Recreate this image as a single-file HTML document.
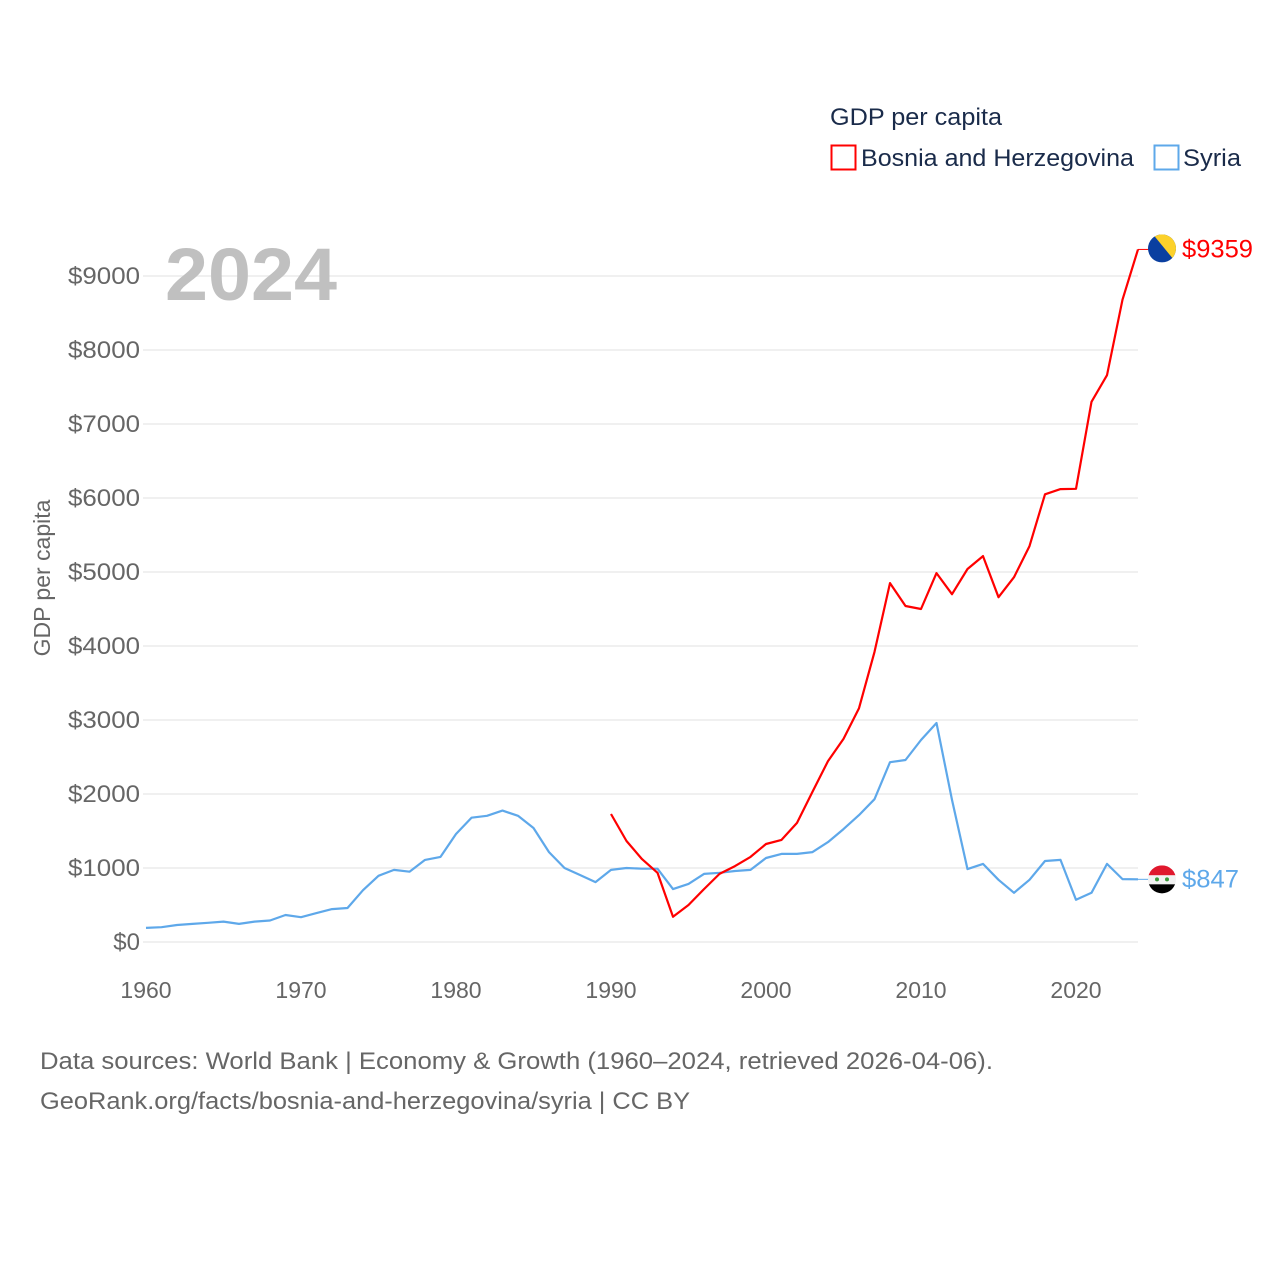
<!DOCTYPE html>
<html><head><meta charset="utf-8"><style>
html,body{margin:0;padding:0;background:#fff;}
svg{display:block;font-family:"Liberation Sans",sans-serif;}
</style></head><body>
<svg id="chart" width="1280" height="1280" viewBox="0 0 1280 1280" xmlns="http://www.w3.org/2000/svg">
<rect width="1280" height="1280" fill="#fff"/>
<g id="grid"></g>
<g id="yticks"></g>
<g id="xticks"></g>
<text transform="translate(50,578) rotate(-90)" text-anchor="middle" font-size="23" fill="#666">GDP per capita</text>
<text x="165" y="300" font-size="74" font-weight="bold" fill="#c0c0c0" textLength="172" lengthAdjust="spacingAndGlyphs">2024</text>
<g>
<text x="830" y="125" font-size="24" fill="#1a2b4a" textLength="172" lengthAdjust="spacingAndGlyphs">GDP per capita</text>
<rect x="831.5" y="145.5" width="24" height="24" fill="none" stroke="#ff0000" stroke-width="2"/>
<text x="861" y="166" font-size="24" fill="#1a2b4a" textLength="273" lengthAdjust="spacingAndGlyphs">Bosnia and Herzegovina</text>
<rect x="1154.5" y="145.5" width="24" height="24" fill="none" stroke="#5ea8ea" stroke-width="2"/>
<text x="1183" y="166" font-size="24" fill="#1a2b4a" textLength="58" lengthAdjust="spacingAndGlyphs">Syria</text>
</g>
<g id="series"></g>
<g id="ends"></g>
<text x="40" y="1069" font-size="24" fill="#666" textLength="953" lengthAdjust="spacingAndGlyphs">Data sources: World Bank | Economy &amp; Growth (1960–2024, retrieved 2026-04-06).</text>
<text x="40" y="1109" font-size="24" fill="#666" textLength="650" lengthAdjust="spacingAndGlyphs">GeoRank.org/facts/bosnia-and-herzegovina/syria | CC BY</text>
</svg>
<script>
const yTicks=[0,1000,2000,3000,4000,5000,6000,7000,8000,9000];
const xTicks=[1960,1970,1980,1990,2000,2010,2020];
const syriaStart=1960;
const syriaValues=[190,200,230,245,260,275,245,275,290,365,335,390,445,460,700,895,975,950,1110,1150,1460,1680,1705,1775,1705,1540,1215,1000,905,810,975,1000,990,990,715,785,920,935,960,975,1135,1190,1190,1215,1350,1525,1715,1930,2430,2460,2730,2960,1920,985,1055,840,665,840,1095,1110,570,665,1055,850,847];
const bosniaStart=1990;
const bosniaValues=[1730,1365,1120,935,340,500,715,920,1025,1150,1325,1380,1610,2030,2445,2745,3160,3920,4850,4540,4500,4985,4700,5040,5215,4660,4930,5350,6050,6120,6125,7300,7660,8680,9359];

const NS="http://www.w3.org/2000/svg";
const X=yr=>146+(yr-1960)*15.5;
const Y=v=>942-v*0.074;
function mk(tag,attrs,parent){const e=document.createElementNS(NS,tag);for(const k in attrs)e.setAttribute(k,attrs[k]);parent.appendChild(e);return e;}
const grid=document.getElementById('grid'),yt=document.getElementById('yticks'),xt=document.getElementById('xticks');
yTicks.forEach(v=>{
  const l=mk('line',{x1:143,x2:1138,y1:Y(v),y2:Y(v),stroke:'#ebebeb','stroke-width':1.5},grid);
  
  
  const s='$'+v;
  const attrs={x:140,y:Y(v)+8,'text-anchor':'end','font-size':24,fill:'#666'};
  if(s.length>2){attrs.textLength=(s.length*14.4).toFixed(1);attrs.lengthAdjust='spacingAndGlyphs';}
  const t=mk('text',attrs,yt);
  
  
  t.textContent=s;
});
xTicks.forEach(yr=>{
  const t=mk('text',{x:X(yr),y:998,'text-anchor':'middle','font-size':23,fill:'#666'},xt);
  
  
  t.textContent=yr;
});
const sg=document.getElementById('series');
function line(start,vals,color,name){
  const pts=vals.map((v,i)=>X(start+i).toFixed(1)+','+Y(v).toFixed(1)).join(' ');
  const p=mk('polyline',{points:pts,fill:'none',stroke:color,'stroke-width':2.2,'stroke-linejoin':'round'},sg);
  
  
}
line(syriaStart,syriaValues,'#5ea8ea','line-syria');
line(bosniaStart,bosniaValues,'#ff0000','line-bosnia');

const ends=document.getElementById('ends');
const bv=bosniaValues[bosniaValues.length-1], sv=syriaValues[syriaValues.length-1];
const bx=X(bosniaStart+bosniaValues.length-1), sx=X(syriaStart+syriaValues.length-1);
const by=Y(bv);
const bl=mk('line',{x1:bx,x2:1150,y1:by,y2:by,stroke:'#ff0000','stroke-width':1},ends);


const bf=mk('g',{},ends);


const cb=mk('clipPath',{id:'cb'},bf);mk('circle',{cx:1162,cy:by-1,r:14},cb);
const fb=mk('g',{'clip-path':'url(#cb)'},bf);
mk('rect',{x:1148,y:by-15,width:28,height:28,fill:'#0a3fa0'},fb);
mk('polygon',{points:`1153,${by-15} 1176,${by-15} 1176,${by+13}`,fill:'#fcd12a'},fb);
const bt=mk('text',{x:1182,y:by+8,'font-size':25,fill:'#ff0000',textLength:71,lengthAdjust:'spacingAndGlyphs'},ends);


bt.textContent='$'+bv;
const sy=Y(sv);
const sl=mk('line',{x1:sx,x2:1150,y1:sy,y2:sy,stroke:'#5ea8ea','stroke-width':1},ends);


const sf=mk('g',{},ends);


const cp=mk('clipPath',{id:'cs'},sf);mk('circle',{cx:1162,cy:sy,r:14},cp);
const fs=mk('g',{'clip-path':'url(#cs)'},sf);
mk('rect',{x:1148,y:sy-14,width:28,height:10,fill:'#e0182d'},fs);
mk('rect',{x:1148,y:sy-4,width:28,height:9,fill:'#f2f2f2'},fs);
mk('rect',{x:1148,y:sy+5,width:28,height:10,fill:'#000'},fs);
mk('circle',{cx:1157,cy:sy,r:2,fill:'#3a9a3a'},fs);
mk('circle',{cx:1167,cy:sy,r:2,fill:'#3a9a3a'},fs);
const st=mk('text',{x:1182,y:sy+8,'font-size':25,fill:'#5ea8ea',textLength:57,lengthAdjust:'spacingAndGlyphs'},ends);


st.textContent='$'+sv;
</script>
</body></html>
